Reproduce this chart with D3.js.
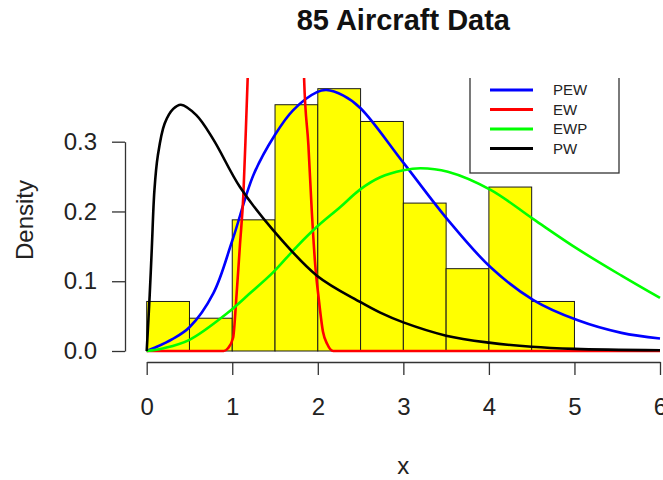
<!DOCTYPE html>
<html>
<head>
<meta charset="utf-8">
<script src="https://cdn.jsdelivr.net/npm/d3@7"></script>
<style>
  body { margin: 0; background: #fff; }
  text { font-family: "Liberation Sans", Arial, sans-serif; }
</style>
</head>
<body>
<div id="chart"></div>
<script>
// Histogram of 85 aircraft values (density scale)
const binEdges = [0, 0.5, 1, 1.5, 2, 2.5, 3, 3.5, 4, 4.5, 5];
const binDensity = [0.071, 0.047, 0.188, 0.353, 0.376, 0.329, 0.212, 0.118, 0.235, 0.071];

// fitted densities
const pewX = [0, 0.1, 0.3, 0.5, 0.78, 1.0, 1.25, 1.5, 1.71, 1.99, 2.1, 2.3, 2.5, 3.0, 3.52, 4.02, 4.52, 5.04, 5.55, 6.0];
const pewY = [0, 0.005, 0.017, 0.034, 0.083, 0.158, 0.253, 0.31, 0.345, 0.371, 0.374, 0.366, 0.348, 0.27, 0.188, 0.12, 0.073, 0.044, 0.026, 0.018];

const ewX = [0, 0.9, 0.95, 1.01, 1.05, 1.09, 1.13, 1.16, 1.18, 1.3, 1.45, 1.55, 1.65, 1.78, 1.84, 1.89, 1.93, 1.97, 2.01, 2.06, 2.11, 2.18, 6.0];
const ewY = [0, 0, 0.004, 0.019, 0.08, 0.152, 0.224, 0.32, 0.39, 0.9, 1.6, 1.8, 1.6, 0.8, 0.39, 0.295, 0.2, 0.123, 0.076, 0.028, 0.01, 0, 0];

const ewpX = [0, 0.2, 0.5, 0.94, 1.21, 1.48, 1.75, 1.99, 2.26, 2.5, 2.73, 3.0, 3.2, 3.52, 4.02, 4.52, 5.04, 5.55, 6.0];
const ewpY = [0, 0.004, 0.016, 0.054, 0.083, 0.113, 0.149, 0.178, 0.206, 0.232, 0.249, 0.259, 0.262, 0.257, 0.231, 0.189, 0.146, 0.108, 0.076];

const pwX = [0, 0.035, 0.06, 0.09, 0.13, 0.21, 0.31, 0.4, 0.58, 0.78, 1.09, 1.48, 1.99, 2.5, 2.73, 3.0, 3.5, 4.0, 4.5, 5.0, 6.0];
const pwY = [0, 0.08, 0.148, 0.23, 0.28, 0.326, 0.347, 0.353, 0.338, 0.303, 0.235, 0.173, 0.108, 0.07, 0.055, 0.041, 0.022, 0.012, 0.006, 0.003, 0.001];

const xTicks = [0, 1, 2, 3, 4, 5, 6];
const yTicks = [0, 0.1, 0.2, 0.3];

const legendNames = ["PEW", "EW", "EWP", "PW"];
const legendColors = ["#0000ff", "#ff0000", "#00ff00", "#000000"];

const width = 663, height = 480;
const plot = {left: 126.2, right: 680.5, top: 78, bottom: 362};

let svg = d3.select("#chart")
    .append("svg")
    .attr("width", width)
    .attr("height", height);

let x = d3.scaleLinear().domain([0, 6]).range([146.7, 660]);
let y = d3.scaleLinear().domain([0, 0.3]).range([351, 141.7]);

// clip everything inside the plot region, like R does
svg.append("clipPath")
    .attr("id", "plotClip")
    .append("rect")
    .attr("x", plot.left)
    .attr("y", plot.top)
    .attr("width", plot.right - plot.left)
    .attr("height", plot.bottom - plot.top);

let inner = svg.append("g").attr("clip-path", "url(#plotClip)");

// histogram bars
inner.selectAll("rect.bar")
    .data(binDensity)
    .enter()
    .append("rect")
    .attr("class", "bar")
    .attr("x", function(d, i) { return x(binEdges[i]); })
    .attr("y", function(d) { return y(d); })
    .attr("width", function(d, i) { return x(binEdges[i + 1]) - x(binEdges[i]); })
    .attr("height", function(d) { return y(0) - y(d); })
    .attr("fill", "#ffff00")
    .attr("stroke", "#1a1a1a")
    .attr("stroke-width", 1);

function makeLine(curve) {
    return d3.line()
        .x(function(d) { return x(d[0]); })
        .y(function(d) { return y(d[1]); })
        .curve(curve);
}

let smooth = d3.curveCatmullRom.alpha(0.5);
let curves = [
    [pewX, pewY, smooth],
    [ewX, ewY, d3.curveMonotoneX],
    [ewpX, ewpY, smooth],
    [pwX, pwY, smooth]
];

curves.forEach(function(c, i) {
    inner.append("path")
        .datum(d3.zip(c[0], c[1]))
        .attr("fill", "none")
        .attr("stroke", legendColors[i])
        .attr("stroke-width", 2.6)
        .attr("stroke-linejoin", "round")
        .attr("d", makeLine(c[2]));
});

// legend (top edge falls outside the plot region and is clipped)
inner.append("rect")
    .attr("x", 470)
    .attr("y", 60)
    .attr("width", 149)
    .attr("height", 113)
    .attr("fill", "#fff")
    .attr("stroke", "#333")
    .attr("stroke-width", 1.3);

let legendY = d3.scalePoint().domain(legendNames).range([90, 148.5]);

legendNames.forEach(function(name, i) {
    inner.append("line")
        .attr("x1", 490).attr("x2", 533)
        .attr("y1", legendY(name)).attr("y2", legendY(name))
        .attr("stroke", legendColors[i])
        .attr("stroke-width", 2.8);
    inner.append("text")
        .attr("x", 553)
        .attr("y", legendY(name) + 5)
        .style("font-size", "15px")
        .attr("fill", "#222")
        .text(name);
});

// axes
let xAxis = svg.append("g")
    .attr("transform", "translate(0, 362)")
    .call(d3.axisBottom(x).tickValues(xTicks).tickFormat(d3.format("d"))
        .tickSize(13).tickSizeOuter(0).tickPadding(23));

let yAxis = svg.append("g")
    .attr("transform", "translate(125, 0)")
    .call(d3.axisLeft(y).tickValues(yTicks).tickFormat(d3.format(".1f"))
        .tickSize(13).tickSizeOuter(0).tickPadding(15));

[xAxis, yAxis].forEach(function(a) {
    a.selectAll("path, line").attr("stroke", "#333").attr("stroke-width", 1.3);
    a.selectAll("text")
        .attr("fill", "#222")
        .style("font-family", "'Liberation Sans', Arial, sans-serif")
        .style("font-size", "24px");
});

// titles
svg.append("text")
    .attr("x", (plot.left + plot.right) / 2)
    .attr("y", 30)
    .style("text-anchor", "middle")
    .style("font-size", "29px")
    .style("font-weight", "bold")
    .attr("fill", "#111")
    .text("85 Aircraft Data");

svg.append("text")
    .attr("x", (plot.left + plot.right) / 2)
    .attr("y", 474)
    .style("text-anchor", "middle")
    .style("font-size", "24px")
    .attr("fill", "#222")
    .text("x");

svg.append("text")
    .attr("transform", `translate(33, ${(plot.top + plot.bottom) / 2}) rotate(-90)`)
    .style("text-anchor", "middle")
    .style("font-size", "24px")
    .attr("fill", "#222")
    .text("Density");
</script>
</body>
</html>
